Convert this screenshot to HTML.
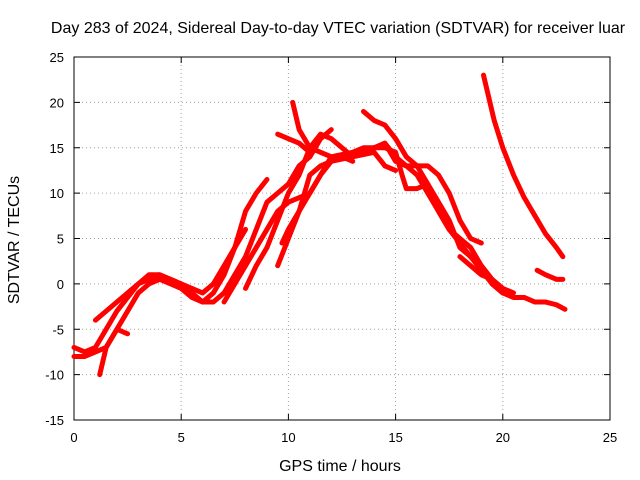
<!DOCTYPE html>
<html><head><meta charset="utf-8"><style>
body{margin:0;background:#fff;}
svg{display:block;font-family:"Liberation Sans",sans-serif;font-size:13px;}
</style></head><body>
<svg id="chart" width="640" height="480" xmlns="http://www.w3.org/2000/svg">
<rect width="640" height="480" fill="#fff"/>
<text x="338" y="33" text-anchor="middle" font-size="16">Day 283 of 2024, Sidereal Day-to-day VTEC variation (SDTVAR) for receiver luar</text>
<g id="grid"></g>
<g id="axes"></g>
<g id="series"></g>
<text x="340" y="471" text-anchor="middle" font-size="16">GPS time / hours</text>
<text transform="translate(19,240) rotate(-90)" text-anchor="middle" font-size="16">SDTVAR / TECUs</text>
</svg>
<script>
const xTicks=[0,5,10,15,20,25];
const yTicks=[-15,-10,-5,0,5,10,15,20,25];
const trackA=[[0,-7],[0.5,-7.5],[1,-7],[1.5,-5],[2,-3],[2.5,-1.5],[3,0],[3.5,1],[4,1],[4.5,0.5],[5,0],[5.5,-1],[6,-2],[6.5,-1],[7,1],[7.5,4],[8,6]];
const trackB=[[1.2,-10],[1.5,-7],[2,-5],[2.5,-3],[3,-1],[3.5,0],[4,0.5],[4.5,0],[5,-0.5],[5.5,-1.5],[6,-2],[6.5,-2],[7,-1],[7.5,1],[8,3],[8.5,6],[9,9],[9.5,10],[10,11],[10.5,13],[11,14],[11.5,16],[12,17]];
const trackC=[[0,-8],[0.5,-8],[1,-7.5],[1.5,-7],[2,-5],[2.5,-5.5]];
const trackD=[[1,-4],[1.5,-3],[2,-2],[3,0],[4,1],[5,0],[6,-1],[6.5,0],[7,2],[7.5,4],[8,8],[8.5,10],[9,11.5]];
const trackE=[[7,-2],[7.5,0],[8,2],[8.5,4],[9,6],[9.5,8],[10,9],[10.5,9.5],[11,10],[11.5,12],[12,14],[12.5,14],[13,13.5]];
const trackF=[[8,-0.5],[8.5,2],[9,4],[9.5,7],[10,10],[10.5,12],[11,15],[11.5,16.5],[12,16],[12.5,15],[13,14],[13.5,14.5],[14,15],[14.5,15.5],[15,14],[15.5,13],[16,12],[16.5,10],[17,8],[17.5,6],[18,4.5],[18.5,3],[19,2],[19.5,0],[20,-1],[20.5,-1.5],[21,-1.5],[21.5,-2],[22,-2],[22.5,-2.3],[22.9,-2.8]];
const trackG=[[10.2,20],[10.5,17],[11,15],[11.5,14.5],[12,14],[13,14.5],[14,15],[14.5,15.5],[15,13.5],[15.5,13],[16,13],[16.5,11],[17,8],[17.5,6],[18,5],[18.5,4],[19,2],[19.5,0.5],[20,-0.5],[20.5,-1]];
const trackH=[[9.7,4.5],[10,6],[10.5,8],[11,10],[11.5,12],[12,13.5],[12.5,14],[13,14.5],[13.5,15],[14,15],[14.5,15],[15,14.5],[15.3,12],[15.5,10.5],[16,10.5],[16.5,11],[17,9],[17.5,7],[18,4],[18.5,3],[19,1.5],[19.5,0],[20,-1]];
const trackI=[[9.5,2],[10,5],[10.5,8],[11,12],[11.5,13],[12,13.5],[13,14],[14,14.5],[14.5,13],[15,12.5]];
const trackJ=[[13.5,19],[14,18],[14.5,17.5],[15,16],[15.5,14],[16,13],[16.5,13],[17,12],[17.5,10],[18,7],[18.5,5],[19,4.5]];
const trackK=[[9.5,16.5],[10,16],[10.5,15.5],[11,14.5]];
const trackL=[[19.1,23],[19.3,21],[19.6,18],[20,15],[20.5,12],[21,9.5],[21.5,7.5],[22,5.5],[22.5,4],[22.8,3]];
const trackM=[[21.6,1.5],[22,1],[22.5,0.5],[22.8,0.5]];
const trackN=[[18,3],[18.5,2],[19,1],[19.5,0.5]];
const tracks=[trackA,trackB,trackC,trackD,trackE,trackF,trackG,trackH,trackI,trackJ,trackK,trackL,trackM,trackN];

const L=74,R=610,T=57,B=420;
const xs=v=>L+(v-0)/25*(R-L);
const ys=v=>B-(v+15)/40*(B-T);
const NS="http://www.w3.org/2000/svg";
function mk(tag,attrs,parent){const e=document.createElementNS(NS,tag);for(const k in attrs)e.setAttribute(k,attrs[k]);parent.appendChild(e);return e;}
const grid=document.getElementById('grid'),axes=document.getElementById('axes'),ser=document.getElementById('series');
xTicks.forEach(t=>{
  const x=xs(t);
  if(t>0&&t<25){const g=mk('line',{x1:x,x2:x,y1:T,y2:B,stroke:'#a0a0a0','stroke-dasharray':'1,3'},grid);
  
  }
  mk('line',{x1:x,x2:x,y1:B,y2:B-6,stroke:'#000'},axes);
  mk('line',{x1:x,x2:x,y1:T,y2:T+6,stroke:'#000'},axes);
  const tx=mk('text',{x:x,y:B+22,'text-anchor':'middle'},axes);tx.textContent=t;
  
  
});
yTicks.forEach(t=>{
  const y=ys(t);
  if(t>-15&&t<25){const g=mk('line',{x1:L,x2:R,y1:y,y2:y,stroke:'#a0a0a0','stroke-dasharray':'1,3'},grid);
  
  }
  mk('line',{x1:L,x2:L+6,y1:y,y2:y,stroke:'#000'},axes);
  mk('line',{x1:R,x2:R-6,y1:y,y2:y,stroke:'#000'},axes);
  const tx=mk('text',{x:L-10,y:y+5,'text-anchor':'end'},axes);tx.textContent=t;
  
  
});
const fr=mk('rect',{x:L,y:T,width:R-L,height:B-T,fill:'none',stroke:'#000'},axes);


tracks.forEach((tr,i)=>{
  const p=mk('polyline',{points:tr.map(d=>xs(d[0])+','+ys(d[1])).join(' '),fill:'none',stroke:'#ff0000','stroke-width':5,'stroke-linejoin':'round','stroke-linecap':'round'},ser);
  
  
});
</script>
</body></html>
